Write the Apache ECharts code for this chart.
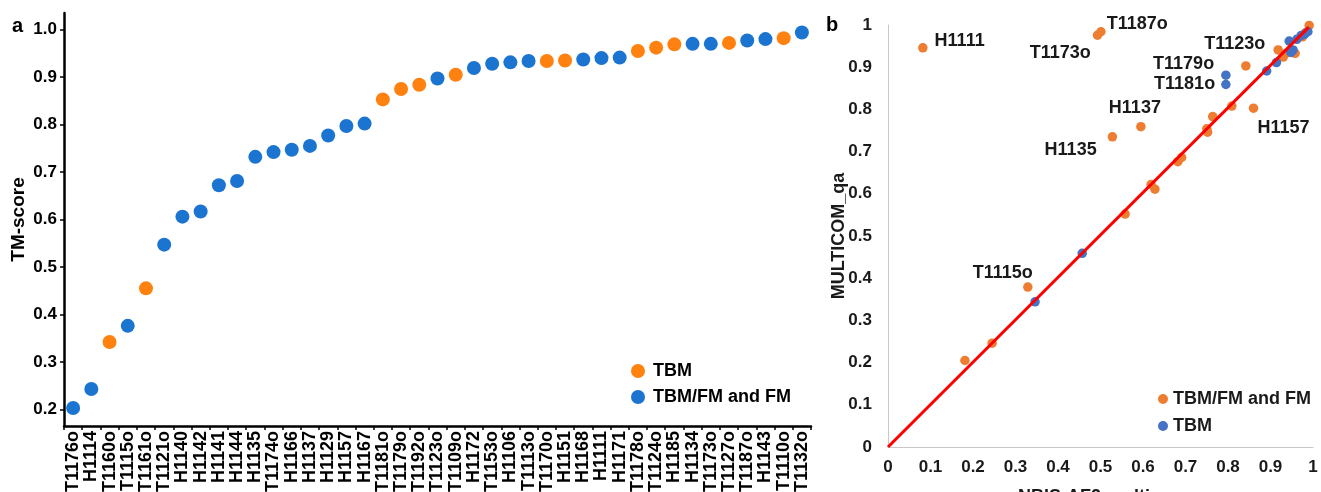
<!DOCTYPE html>
<html><head><meta charset="utf-8">
<script src="https://cdn.jsdelivr.net/npm/echarts@6/dist/echarts.min.js"></script>
<style>html,body{margin:0;padding:0;background:#fff}#c{width:1321px;height:492px}</style>
</head><body><div id="c"></div>
<script>
// ---------- Panel a data ----------
const categories = ['T1176o','H1114','T1160o','T1115o','T1161o','T1121o','H1140','H1142','H1141','H1144','H1135','T1174o','H1166','H1137','H1129','H1157','H1167','T1181o','T1179o','T1192o','T1123o','T1109o','H1172','T1153o','H1106','T1113o','T1170o','H1151','H1168','H1111','H1171','T1178o','T1124o','H1185','H1134','T1173o','T1127o','T1187o','H1143','T1110o','T1132o'];
const tmScores = [0.203,0.243,0.342,0.376,0.455,0.547,0.606,0.617,0.672,0.681,0.732,0.742,0.747,0.755,0.777,0.797,0.802,0.853,0.875,0.884,0.897,0.905,0.919,0.928,0.931,0.934,0.934,0.935,0.937,0.940,0.941,0.955,0.962,0.969,0.970,0.970,0.972,0.977,0.980,0.982,0.994];
// 'TBM' or 'FM' (= TBM/FM and FM)
const groups = ['FM','FM','TBM','FM','TBM','FM','FM','FM','FM','FM','FM','FM','FM','FM','FM','FM','FM','TBM','TBM','TBM','FM','TBM','FM','FM','FM','FM','TBM','TBM','FM','FM','FM','TBM','TBM','TBM','FM','FM','TBM','FM','FM','TBM','FM'];
const yTicksA = [0.2,0.3,0.4,0.5,0.6,0.7,0.8,0.9,1.0];

// ---------- Panel b data ----------
const fmNames = ['T1176o','H1114','T1115o','T1121o','H1140','H1142','H1141','H1144','H1135','T1174o','H1166','H1137','H1129','H1157','H1167','T1123o','H1172','T1153o','H1106','T1113o','H1168','H1111','H1171','H1134','T1173o','T1187o','H1143','T1132o'];
const fmX = [0.181,0.245,0.329,0.558,0.628,0.619,0.682,0.691,0.528,0.752,0.750,0.595,0.764,0.860,0.809,0.842,0.930,0.958,0.935,0.945,0.950,0.082,0.918,0.975,0.493,0.501,0.983,0.991];
const fmY = [0.205,0.246,0.379,0.552,0.611,0.622,0.676,0.686,0.735,0.746,0.754,0.759,0.783,0.803,0.808,0.903,0.924,0.933,0.932,0.937,0.940,0.946,0.941,0.972,0.976,0.984,0.982,0.999];
const tbmNames = ['T1160o','T1161o','T1181o','T1179o','T1192o','T1109o','T1170o','H1151','T1178o','T1124o','H1185','T1127o','T1110o'];
const tbmX = [0.346,0.457,0.795,0.795,0.891,0.914,0.953,0.948,0.944,0.962,0.972,0.980,0.988];
const tbmY = [0.344,0.459,0.859,0.881,0.891,0.911,0.941,0.935,0.962,0.966,0.975,0.978,0.984];
const fitLine = [[0,0],[0.99,0.995]];
const labeledTargets = ['H1111','T1187o','T1173o','T1123o','T1179o','T1181o','H1137','H1135','H1157','T1115o'];

// ---------- styling ----------
const FONT = "'Liberation Sans', Arial, sans-serif";
const ORANGE_A = '#FF8210', BLUE_A = '#1B75D0';
const ORANGE_B = '#ED7D31', BLUE_B = '#4472C4';
const labelPlacement = {
  H1111: {position:'right', offset:[2,-7]},
  T1187o: {position:'right', offset:[-4,-8]},
  T1173o: {position:'left', offset:[3,18]},
  T1123o: {position:'top', offset:[-11,-3]},
  T1179o: {position:'left', offset:[-2,-11]},
  T1181o: {position:'left', offset:[-1,0]},
  H1137: {position:'top', offset:[-6,0]},
  H1135: {position:'left', offset:[-6,13]},
  H1157: {position:'bottom', offset:[30,1]},
  T1115o: {position:'top', offset:[-25,5]}
};

function buildB(names, xs, ys) {
  return names.map((n, i) => {
    const item = {name: n, value: [xs[i], ys[i]]};
    if (labeledTargets.includes(n)) {
      const p = labelPlacement[n];
      item.label = {show: true, position: p.position, offset: p.offset, formatter: '{b}',
        fontFamily: FONT, fontWeight: 'bold', fontSize: 18, color: '#1a1a1a'};
    }
    return item;
  });
}

const dataTBM_A = categories.map((c, i) => groups[i] === 'TBM' ? [i, tmScores[i]] : null).filter(Boolean);
const dataFM_A = categories.map((c, i) => groups[i] === 'FM' ? [i, tmScores[i]] : null).filter(Boolean);

const chart = echarts.init(document.getElementById('c'), null, {renderer: 'canvas'});
chart.setOption({
  animation: false,
  backgroundColor: '#fff',
  textStyle: {fontFamily: FONT},
  graphic: [
    {type: 'text', left: 12, top: 16, style: {text: 'a', font: "bold 20px " + FONT, fill: '#000'}},
    {type: 'text', left: 826, top: 15, style: {text: 'b', font: "bold 20px " + FONT, fill: '#000'}}
  ],
  grid: [
    {left: 64, top: 13, width: 747, height: 413, outerBoundsMode: 'none', containLabel: false},
    {left: 888, top: 25, width: 425, height: 422, outerBoundsMode: 'none', containLabel: false}
  ],
  xAxis: [
    {type: 'category', gridIndex: 0, data: categories, boundaryGap: true,
     axisLine: {lineStyle: {color: '#000', width: 2.5}},
     axisTick: {show: true, length: 4, lineStyle: {color: '#000', width: 1.5}},
     axisLabel: {rotate: 90, interval: 0, margin: 5, color: '#000', fontWeight: 'bold', fontSize: 18, fontFamily: FONT}},
    {type: 'value', gridIndex: 1, min: 0, max: 1, interval: 0.1,
     name: 'NBIS-AF2-multimer', nameLocation: 'middle', nameGap: 41, nameMoveOverlap: false,
     nameTextStyle: {color: '#1a1a1a', fontWeight: 'bold', fontSize: 18, fontFamily: FONT},
     splitLine: {show: false},
     axisLine: {show: true, lineStyle: {color: '#c8c8c8', width: 1}},
     axisTick: {show: false},
     axisLabel: {margin: 12, color: '#1a1a1a', fontWeight: 'bold', fontSize: 17, fontFamily: FONT}}
  ],
  yAxis: [
    {type: 'value', gridIndex: 0, min: 0.165, max: 1.035,
     name: 'TM-score', nameLocation: 'middle', nameGap: 36, nameMoveOverlap: false,
     nameTextStyle: {color: '#000', fontWeight: 'bold', fontSize: 19, fontFamily: FONT},
     splitLine: {show: false},
     axisLine: {show: true, lineStyle: {color: '#000', width: 2.5}},
     axisTick: {show: true, length: 4, customValues: yTicksA, lineStyle: {color: '#000', width: 1.5}},
     axisLabel: {customValues: yTicksA, margin: 7, color: '#000', fontWeight: 'bold', fontSize: 17, fontFamily: FONT,
       formatter: v => v.toFixed(1)}},
    {type: 'value', gridIndex: 1, min: 0, max: 1, interval: 0.1,
     name: 'MULTICOM_qa', nameLocation: 'middle', nameGap: 40, nameMoveOverlap: false,
     nameTextStyle: {color: '#1a1a1a', fontWeight: 'bold', fontSize: 18, fontFamily: FONT},
     splitLine: {show: false},
     axisLine: {show: true, lineStyle: {color: '#c8c8c8', width: 1}},
     axisTick: {show: false},
     axisLabel: {margin: 16, color: '#1a1a1a', fontWeight: 'bold', fontSize: 17, fontFamily: FONT}}
  ],
  legend: [
    {orient: 'vertical', left: 626, top: 357, itemWidth: 14, itemHeight: 14, itemGap: 8,
     icon: 'circle', textStyle: {fontFamily: FONT, fontWeight: 'bold', fontSize: 18, color: '#000', padding: [0,0,0,3]},
     data: ['TBM', 'TBM/FM and FM']},
    {orient: 'vertical', left: 1153, top: 385, itemWidth: 10, itemHeight: 10, itemGap: 9,
     icon: 'circle', textStyle: {fontFamily: FONT, fontWeight: 'bold', fontSize: 18, color: '#1a1a1a'},
     formatter: n => n.replace('b:', ''),
     data: ['b:TBM/FM and FM', 'b:TBM']}
  ],
  series: [
    {name: 'TBM', type: 'scatter', xAxisIndex: 0, yAxisIndex: 0, symbolSize: 14,
     itemStyle: {color: ORANGE_A, opacity: 1}, data: dataTBM_A},
    {name: 'TBM/FM and FM', type: 'scatter', xAxisIndex: 0, yAxisIndex: 0, symbolSize: 14,
     itemStyle: {color: BLUE_A, opacity: 1}, data: dataFM_A},
    {name: 'b:TBM/FM and FM', type: 'scatter', xAxisIndex: 1, yAxisIndex: 1, symbolSize: 9.5,
     itemStyle: {color: ORANGE_B, opacity: 1}, data: buildB(fmNames, fmX, fmY), z: 3},
    {name: 'b:TBM', type: 'scatter', xAxisIndex: 1, yAxisIndex: 1, symbolSize: 9.5,
     itemStyle: {color: BLUE_B, opacity: 1}, data: buildB(tbmNames, tbmX, tbmY), z: 4},
    {name: 'fit', type: 'line', xAxisIndex: 1, yAxisIndex: 1, data: fitLine, symbol: 'none',
     lineStyle: {color: '#FF0000', width: 3}, z: 5, silent: true}
  ]
});
</script></body></html>
